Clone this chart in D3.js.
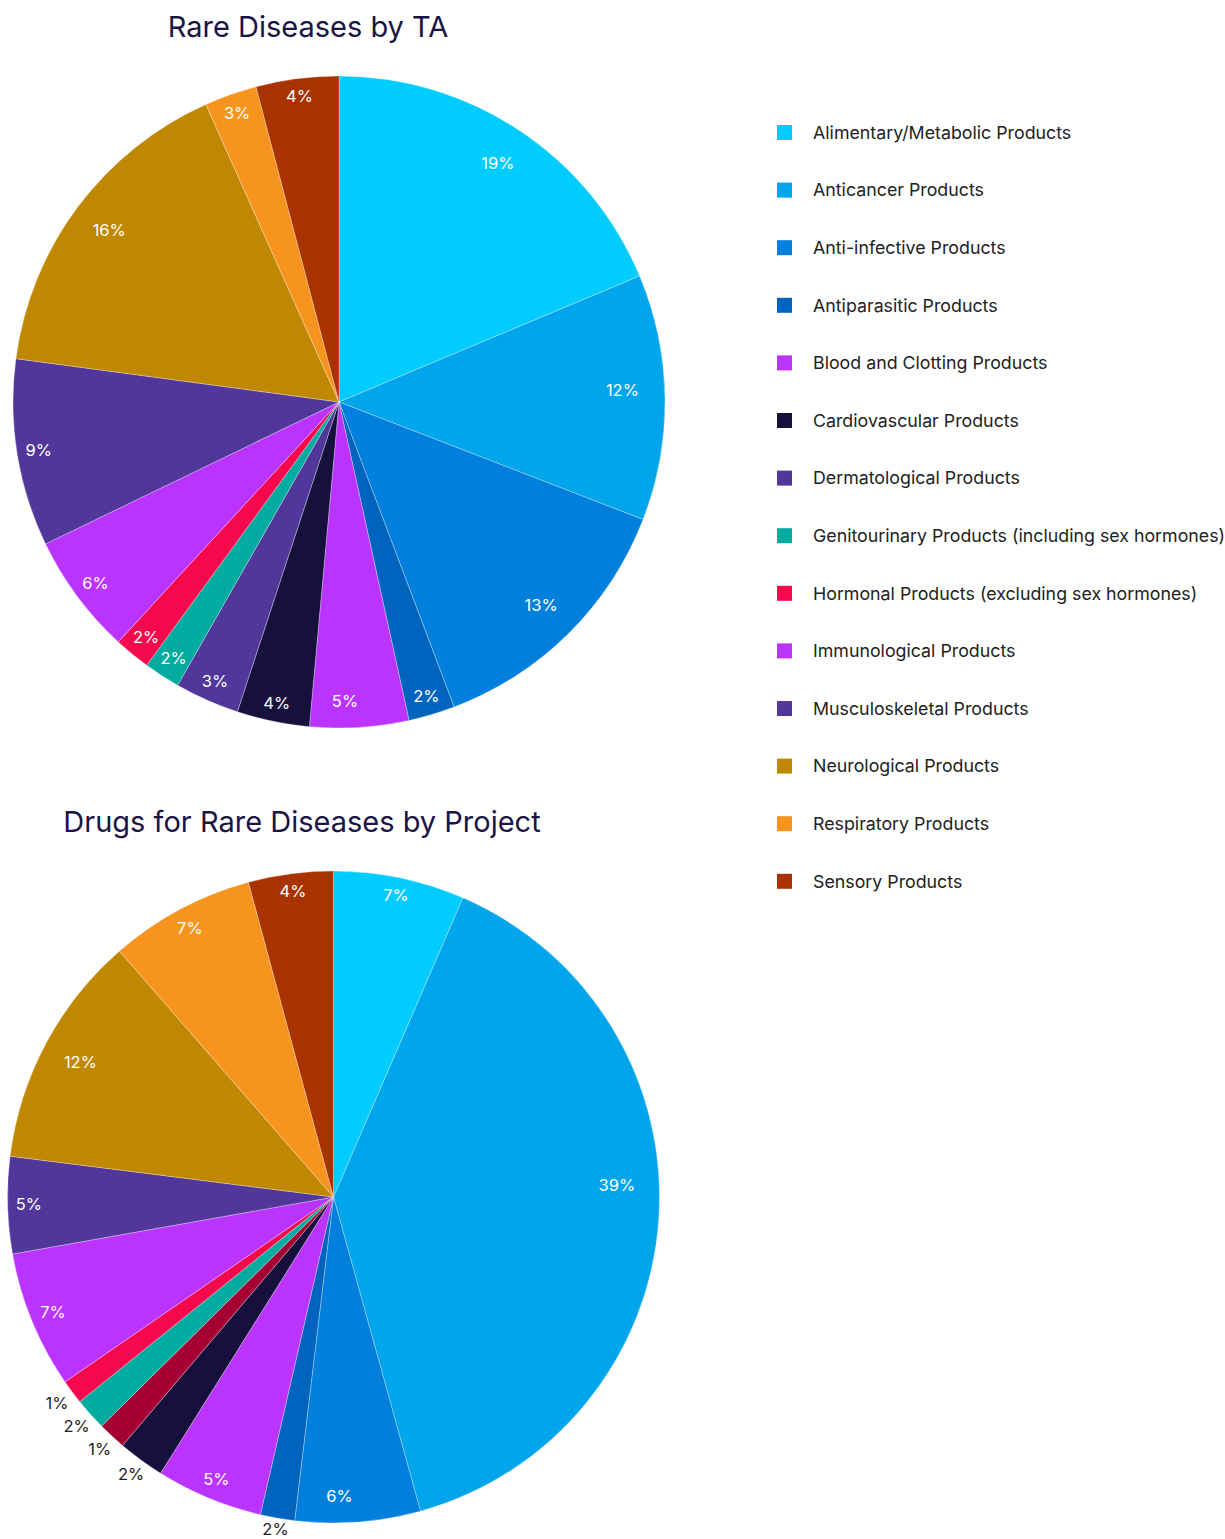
<!DOCTYPE html>
<html>
<head>
<meta charset="utf-8">
<script src="https://cdn.jsdelivr.net/npm/d3@7"></script>
<style>
body { margin: 0; background: #fff; }
svg text { font-family: Inter, "Noto Sans", sans-serif; }
</style>
</head>
<body>
<div id="canvas-container"></div>
<script>
var categories = [
    "Alimentary/Metabolic Products",
    "Anticancer Products",
    "Anti-infective Products",
    "Antiparasitic Products",
    "Blood and Clotting Products",
    "Cardiovascular Products",
    "Dermatological Products",
    "Genitourinary Products (including sex hormones)",
    "Hormonal Products (excluding sex hormones)",
    "Immunological Products",
    "Musculoskeletal Products",
    "Neurological Products",
    "Respiratory Products",
    "Sensory Products"
];

// shares in percent
var taShares = [18.7, 12.2, 13.4, 2.3, 4.9, 3.6, 3.2, 1.8, 1.8, 6.0, 9.3, 16.2, 2.6, 4.1];
var projectShares = [6.5, 39.2, 6.2, 1.7, 5.3, 2.3, 1.4, 1.6, 1.2, 6.8, 4.8, 11.6, 7.2, 4.2];

var taColors = ["#00ccff", "#00a5eb", "#0080dc", "#0064bf", "#bb33ff", "#16103d", "#52379a",
                "#00ab9f", "#f5084c", "#bb33ff", "#52379a", "#c08800", "#f7941d", "#a83200"];
var projectColors = ["#00ccff", "#00a5eb", "#0080dc", "#0064bf", "#bb33ff", "#16103d", "#a50034",
                     "#00ab9f", "#f5084c", "#bb33ff", "#52379a", "#c08800", "#f7941d", "#a83200"];

var titles = ["Rare Diseases by TA", "Drugs for Rare Diseases by Project"];

var W = 1225, H = 1539;
var radius = 326;
var titleColor = "#1b1446";

var svg = d3.select("#canvas-container").append("svg")
    .attr("width", W)
    .attr("height", H);

function crosses(d, ang) {
    return d.startAngle < ang && d.endAngle > ang;
}

function labelPos(d, total, insideMin) {
    var a = (d.startAngle + d.endAngle) / 2;
    var share = d.value / total;
    var dist;
    if (d.value < insideMin) {
        // outside, just past the rim
        var extOut = Math.abs(Math.sin(a)) * 15 + Math.abs(Math.cos(a)) * 5;
        dist = radius + 4 + extOut;
    } else if (crosses(d, Math.PI / 2)) {
        a = Math.PI / 2 - 0.04;
        dist = radius * 0.87;
    } else if (crosses(d, Math.PI)) {
        a = Math.PI - 0.02;
        dist = radius - 27;
    } else if (share > 0.1) {
        dist = radius * 0.88;
    } else {
        // push the text box out to the rim
        var ext = Math.abs(Math.sin(a)) * 12 + Math.abs(Math.cos(a)) * 7;
        dist = radius - 9 - ext;
    }
    return [Math.sin(a) * dist, -Math.cos(a) * dist];
}

function drawPie(values, colors, title, cx, cy, titleX, titleY, insideMin) {
    svg.append("text")
        .attr("x", titleX)
        .attr("y", titleY)
        .attr("text-anchor", "middle")
        .attr("font-size", 29)
        .attr("fill", titleColor)
        .text(title);

    var g = svg.append("g")
        .attr("transform", "translate(" + cx + "," + cy + ")");

    var total = d3.sum(values);
    var pie = d3.pie().sort(null).value(function (d) { return d; });
    var arcs = pie(values);
    var arc = d3.arc().innerRadius(0).outerRadius(radius);

    g.selectAll("path.slice")
        .data(arcs)
        .enter().append("path")
        .attr("class", "slice")
        .attr("d", arc)
        .attr("fill", function (d, i) { return colors[i]; })
        .attr("stroke", "#fff")
        .attr("stroke-width", 0.3);

    g.selectAll("text.pct")
        .data(arcs)
        .enter().append("text")
        .attr("class", "pct")
        .attr("text-anchor", "middle")
        .attr("dy", "0.35em")
        .attr("font-size", 16.5)
        .attr("fill", function (d) { return d.value >= insideMin ? "#fff" : "#222"; })
        .attr("transform", function (d) {
            return "translate(" + labelPos(d, total, insideMin) + ")";
        })
        .text(function (d) { return Math.round(d.value / total * 100) + "%"; });
}

drawPie(taShares, taColors, titles[0], 339, 402, 308, 37, 0);
drawPie(projectShares, projectColors, titles[1], 333.5, 1197, 302, 831.5, 2.5);

// legend (first chart)
var legend = svg.append("g").attr("transform", "translate(777,132.5)");
var rows = legend.selectAll("g.item")
    .data(categories)
    .enter().append("g")
    .attr("class", "item")
    .attr("transform", function (d, i) { return "translate(0," + (i * 57.6) + ")"; });

rows.append("rect")
    .attr("x", 0)
    .attr("y", -7.5)
    .attr("width", 15)
    .attr("height", 15)
    .attr("fill", function (d, i) { return taColors[i]; });

rows.append("text")
    .attr("x", 36)
    .attr("dy", "0.35em")
    .attr("font-size", 17.8)
    .attr("fill", "#222")
    .text(function (d) { return d; });
</script>
</body>
</html>
